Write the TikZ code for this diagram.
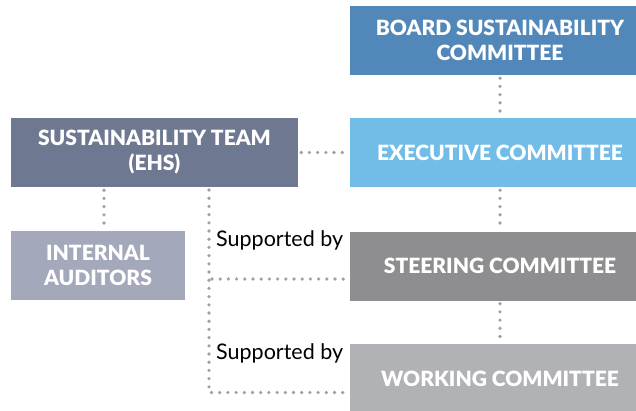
\documentclass[tikz,border=0pt]{standalone}
\usepackage{fontspec}
\setmainfont{Lato}[BoldFont={Lato Black}]
\usetikzlibrary{positioning}

\definecolor{boardblue}{HTML}{5187B9}
\definecolor{execblue}{HTML}{72BCE8}
\definecolor{teamslate}{HTML}{6E7891}
\definecolor{auditgray}{HTML}{A3A8BA}
\definecolor{steergray}{HTML}{8E8E91}
\definecolor{workgray}{HTML}{B0B2B5}
\definecolor{dotgray}{HTML}{A0A0A0}

\begin{document}
\begin{tikzpicture}[x=1pt, y=-1pt,
    box/.style={rectangle, minimum height=69pt, inner sep=0pt, align=center, text=white, font=\bfseries\fontsize{21}{25}\selectfont},
    wide/.style={box, minimum width=300pt},
    link/.style={draw=dotgray, line width=3.6pt, line cap=round, dash pattern=on 0pt off 8.2pt, shorten <=3pt, shorten >=3pt},
    note/.style={anchor=west, inner sep=0pt, font=\fontsize{21.5}{25}\selectfont}]
      \useasboundingbox (0,0) rectangle (636,410);
      \node[wide, fill=boardblue] (board) at (500,40.5) {BOARD SUSTAINABILITY\\COMMITTEE};
      \node[wide, fill=execblue] (exec) at (500,152.5) {EXECUTIVE COMMITTEE};
      \node[box, fill=teamslate, minimum width=287pt] (team) at (154.5,152.5) {SUSTAINABILITY TEAM\\(EHS)};
      \node[box, fill=auditgray, minimum width=174pt] (audit) at (98,265.5) {INTERNAL\\AUDITORS};
      \node[wide, fill=steergray] (steer) at (500,266) {STEERING COMMITTEE};
      \node[wide, fill=workgray] (work) at (500,378.5) {WORKING COMMITTEE};
      \coordinate (spine) at (209,187);
      \coordinate (steerin) at ([yshift=-13pt]steer.west);
      \coordinate (workin) at ([yshift=-14pt]work.west);

      \node[note] (sup1) at (216,240) {Supported by};
      \node[note] (sup2) at (216,353) {Supported by};

      \path[link] (board) edge (exec)
            (team) edge (exec)
            (exec) edge (steer)
            (steer) edge (work)
            ([xshift=6pt]audit.north |- team.south) edge ([xshift=6pt]audit.north)
            (spine |- steerin) edge (steerin)
            ;
      \draw[link] (spine) |- (workin);
    \end{tikzpicture}
\end{document}
